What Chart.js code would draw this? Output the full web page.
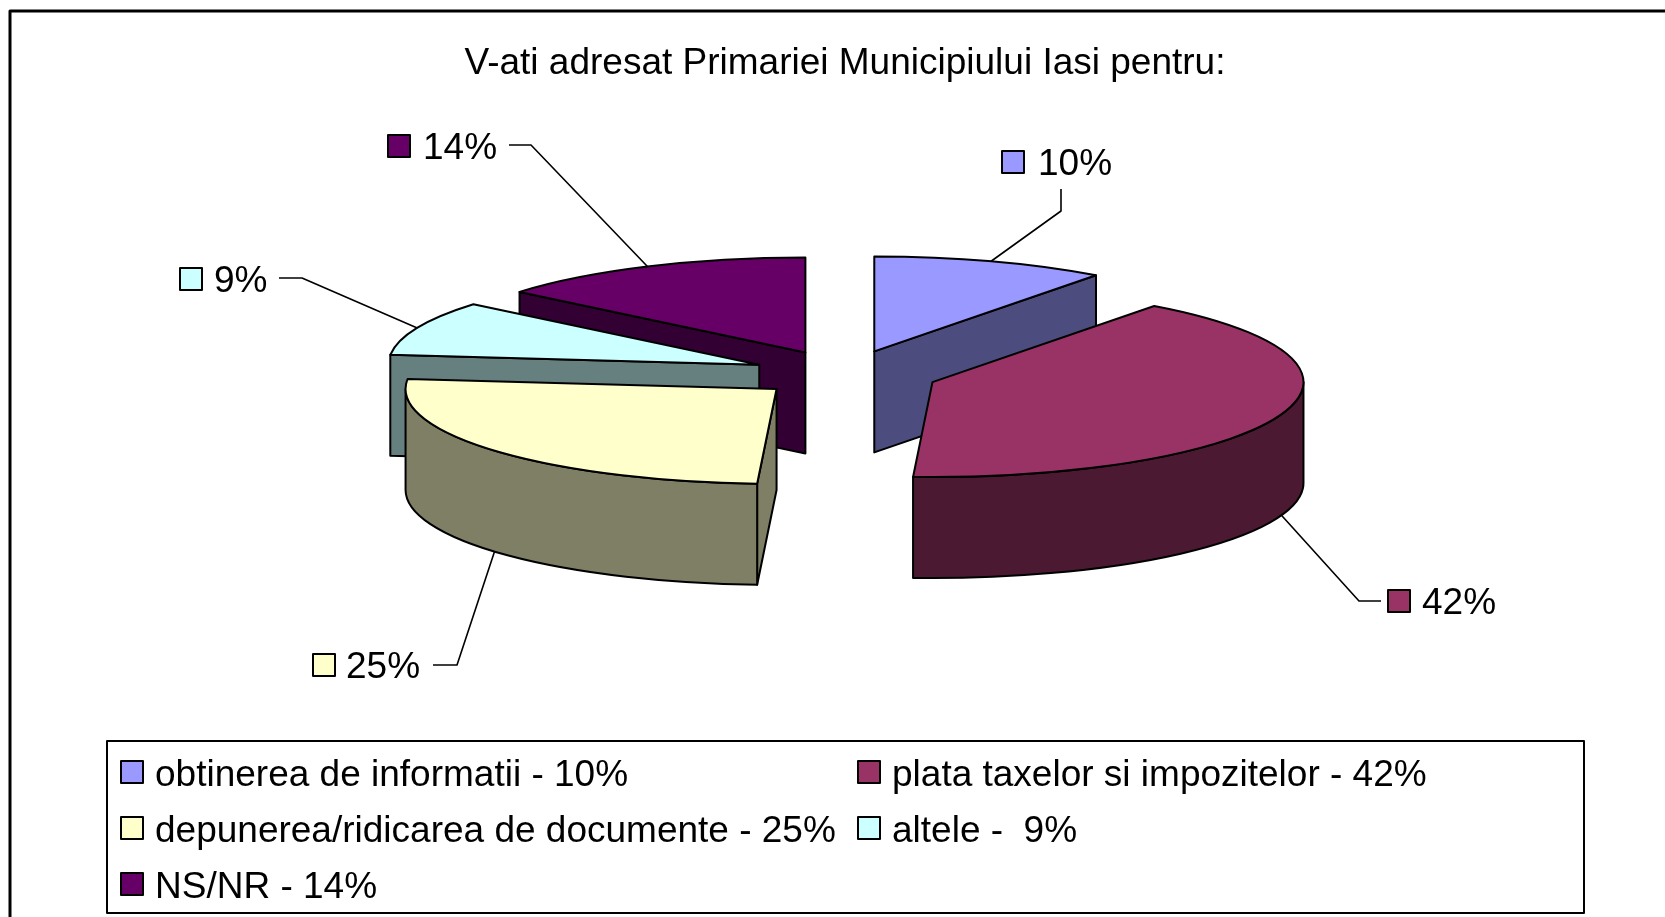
<!DOCTYPE html>
<html>
<head>
<meta charset="utf-8">
<title>V-ati adresat Primariei Municipiului Iasi pentru:</title>
<script src="https://cdn.jsdelivr.net/npm/chart.js@4"></script>
<style>
  html, body { margin: 0; padding: 0; background: #fff; overflow: hidden; }
  #wrap { width: 1665px; height: 917px; }
</style>
</head>
<body>
<div id="wrap"><canvas id="pieChart" width="1665" height="917"></canvas></div>
<script>
const chartTitle = "V-ati adresat Primariei Municipiului Iasi pentru:";
const categories = [
  "obtinerea de informatii - 10%",
  "plata taxelor si impozitelor - 42%",
  "depunerea/ridicarea de documente - 25%",
  "altele -  9%",
  "NS/NR - 14%",
];
const values = [10, 42, 25, 9, 14];
const topColors = ["#9999FF", "#993366", "#FFFFCC", "#CCFFFF", "#660066"];
const sideColors = ["#4C4C7F", "#4C1933", "#7F7F66", "#667F7F", "#330033"];
const explode = [372, 372, 360, 372, 372];

// pie look: squashed circle with an extruded wall
const FONT = "37px 'Liberation Sans', Arial, sans-serif";
const RADIUS = 371;
const SQUASH = 0.256;
const DEPTH = 101;
const CENTER_Y = 374;
const paintOrder = [4, 0, 3, 1, 2];
// the old 3D view bends slice borders a little, degrees per border
const borderBend = [0, 0.7, -4.2, -1.2, 0];

// where each callout sits: swatch corner, text x, leader points outside the slice
const callouts = [
  { box: [1002, 151], textX: 1038, leader: [[1061, 189], [1061, 211]] },
  { box: [1388, 590], textX: 1422, leader: [[1381, 601], [1359, 601]] },
  { box: [313, 654], textX: 346, leader: [[433, 665], [457, 665]] },
  { box: [180, 268], textX: 214, leader: [[279, 278], [302, 278]] },
  { box: [388, 135], textX: 423, leader: [[509, 145], [531, 145]] },
];
const legendSlots = [
  { x: 121, y: 772 }, { x: 858, y: 772 },
  { x: 121, y: 828 }, { x: 858, y: 828 },
  { x: 121, y: 884 },
];

const sliceGeometry = (arc) => {
  const half = (arc.startAngle + arc.endAngle) / 2;
  const shift = arc.options.offset / 4;
  return {
    cx: arc.x + Math.cos(half) * shift,
    cy: CENTER_Y + Math.sin(half) * shift * SQUASH,
    half,
    a1: arc.startAngle,
    a2: arc.endAngle,
  };
};

const rimPoint = (g, angle) => [
  g.cx + Math.cos(angle) * RADIUS,
  g.cy + Math.sin(angle) * RADIUS * SQUASH,
];

const drawFace = (ctx, g, p) => {
  ctx.beginPath();
  ctx.moveTo(g.cx, g.cy);
  ctx.lineTo(p[0], p[1]);
  ctx.lineTo(p[0], p[1] + DEPTH);
  ctx.lineTo(g.cx, g.cy + DEPTH);
  ctx.closePath();
  ctx.fill();
  ctx.stroke();
};

const drawSides = (ctx, g, fill) => {
  ctx.fillStyle = fill;
  // a cut face only shows when it turns towards the viewer
  if (Math.cos(g.a1) < 0) drawFace(ctx, g, rimPoint(g, g.a1));
  if (Math.cos(g.a2) > 0) drawFace(ctx, g, rimPoint(g, g.a2));
  const lo = Math.max(g.a1, 0);
  const hi = Math.min(g.a2, Math.PI);
  if (lo < hi) {
    ctx.beginPath();
    ctx.ellipse(g.cx, g.cy, RADIUS, RADIUS * SQUASH, 0, lo, hi);
    ctx.ellipse(g.cx, g.cy + DEPTH, RADIUS, RADIUS * SQUASH, 0, hi, lo, true);
    ctx.closePath();
    ctx.fill();
    ctx.stroke();
  }
};

const swatch = (ctx, x, y, w, h, fill) => {
  ctx.fillStyle = fill;
  ctx.fillRect(x, y, w, h);
  ctx.strokeRect(x, y, w, h);
};

const pie3d = {
  id: "pie3d",
  afterDatasetsUpdate(chart) {
    const arcs = chart.getDatasetMeta(0).data;
    const rad = Math.PI / 180;
    arcs.forEach((arc, i) => {
      arc.startAngle += borderBend[i] * rad;
      arc.endAngle += borderBend[(i + 1) % arcs.length] * rad;
      arc.circumference = arc.endAngle - arc.startAngle;
      // Chart.js widens an offset arc by part of its offset, take that back out
      const fix = 1 - Math.sin(Math.min(Math.PI, arc.circumference));
      arc.outerRadius = RADIUS - (arc.options.offset / 4) * fix;
    });
  },
  beforeDatasetsDraw(chart) {
    const ctx = chart.ctx;
    const arcs = chart.getDatasetMeta(0).data;
    ctx.save();
    ctx.strokeStyle = "#000";
    ctx.lineWidth = 2;
    ctx.lineJoin = "round";
    paintOrder.forEach((i) => {
      drawSides(ctx, sliceGeometry(arcs[i]), sideColors[i]);
    });
    ctx.restore();

    ctx.save();
    ctx.translate(arcs[0].x, CENTER_Y);
    ctx.scale(1, SQUASH);
    ctx.translate(-arcs[0].x, -arcs[0].y);
  },
  afterDatasetsDraw(chart) {
    const ctx = chart.ctx;
    ctx.restore();
    const arcs = chart.getDatasetMeta(0).data;

    ctx.save();
    ctx.strokeStyle = "#000";
    ctx.lineWidth = 2;
    ctx.lineJoin = "round";
    paintOrder.forEach((i) => {
      const g = sliceGeometry(arcs[i]);
      ctx.beginPath();
      ctx.moveTo(g.cx, g.cy);
      ctx.ellipse(g.cx, g.cy, RADIUS, RADIUS * SQUASH, 0, g.a1, g.a2);
      ctx.closePath();
      // same colour again, closes the thin gap left along the cut edges
      ctx.fillStyle = topColors[i];
      ctx.fill();
      ctx.stroke();
    });

    // callouts
    ctx.font = FONT;
    ctx.textBaseline = "middle";
    ctx.textAlign = "left";
    callouts.forEach((c, i) => {
      const g = sliceGeometry(arcs[i]);
      const end = rimPoint(g, g.half);
      if (Math.sin(g.half) > 0) end[1] += DEPTH;
      ctx.lineWidth = 1.6;
      ctx.beginPath();
      ctx.moveTo(c.leader[0][0], c.leader[0][1]);
      ctx.lineTo(c.leader[1][0], c.leader[1][1]);
      ctx.lineTo(end[0], end[1]);
      ctx.stroke();
      ctx.lineWidth = 2;
      swatch(ctx, c.box[0], c.box[1], 22, 22, topColors[i]);
      ctx.fillStyle = "#000";
      ctx.fillText(values[i] + "%", c.textX, c.box[1] + 14);
    });

    // legend box
    ctx.lineWidth = 2;
    ctx.strokeRect(107, 741, 1477, 172);
    categories.forEach((label, i) => {
      const s = legendSlots[i];
      swatch(ctx, s.x, s.y - 11, 22, 22, topColors[i]);
      ctx.fillStyle = "#000";
      ctx.fillText(label, s.x + 34, s.y + 4);
    });

    // outer frame, cut off by the picture on the right and at the bottom
    ctx.lineWidth = 3;
    ctx.beginPath();
    ctx.moveTo(10, 917);
    ctx.lineTo(10, 11);
    ctx.lineTo(1665, 11);
    ctx.stroke();
    ctx.restore();
  },
};

new Chart(document.getElementById("pieChart"), {
  type: "pie",
  data: {
    labels: categories,
    datasets: [
      {
        data: values,
        backgroundColor: topColors,
        borderWidth: 0,
        offset: explode,
        clip: false,
      },
    ],
  },
  options: {
    responsive: false,
    animation: false,
    radius: 278,
    layout: { padding: { left: 25 } },
    plugins: {
      legend: { display: false },
      tooltip: { enabled: false },
      title: {
        display: true,
        text: chartTitle,
        color: "#000",
        font: { family: "'Liberation Sans', Arial, sans-serif", size: 37, weight: "normal" },
        padding: { top: 42, bottom: 0 },
      },
    },
  },
  plugins: [pie3d],
});
</script>
</body>
</html>
